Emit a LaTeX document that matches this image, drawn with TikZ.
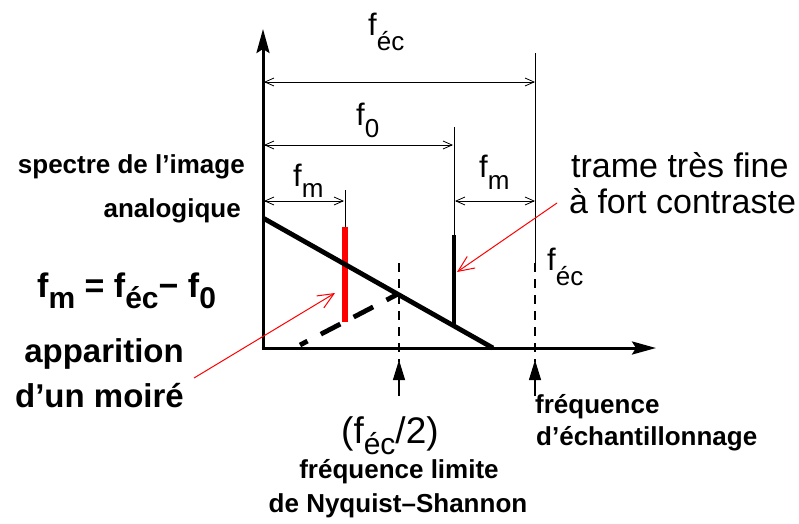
\documentclass[tikz,border=0pt]{standalone}
\usepackage{fontspec}
\setmainfont{Liberation Sans}
\usetikzlibrary{arrows.meta}
\newcommand{\lbl}[3][26]{f\raisebox{-#2}{\fontsize{#1}{28}\selectfont #3}}
\begin{document}
\begin{tikzpicture}[x=1pt,y=-1pt,
  axis/.style={line width=3pt,-{Stealth[length=24pt,width=13pt,inset=4pt]}},
  dim/.style={line width=0.8pt,{Straight Barb[length=9pt,width=8pt]}-{Straight Barb[length=9pt,width=8pt]}},
  ext/.style={line width=0.8pt},
  thick line/.style={line width=4.8pt},
  dashv/.style={line width=2.6pt,dash pattern=on 9pt off 7pt},
  upar/.style={line width=1.2pt,-{Triangle[length=20pt,width=12pt]}},
  redar/.style={red,line width=1pt,-{Straight Barb[length=16pt,width=14pt]}},
  reg/.style={inner sep=0pt,font=\fontsize{31}{34}\selectfont},
  big/.style={inner sep=0pt,font=\fontsize{34}{36}\selectfont},
  bold26/.style={inner sep=0pt,font=\fontsize{26}{30}\selectfont\bfseries},
  bold33/.style={inner sep=0pt,font=\fontsize{33}{38}\selectfont\bfseries}]
\useasboundingbox (0,0) rectangle (799,523);
% axes
\coordinate (O) at (263,348);
\coordinate (Ytop) at (263,29);
\coordinate (Xend) at (656,348);
\draw[axis] ([yshift=1.5pt]O) -- (Ytop);
\draw[axis] ([xshift=-1.5pt]O) -- (Xend);
% extension lines
\coordinate (E1) at (535,53); \coordinate (E2) at (535,263); \coordinate (E3) at (535,362);
\coordinate (F1) at (454,127); \coordinate (F2) at (454,235); \coordinate (F3) at (454,324);
\coordinate (M1) at (345,190); \coordinate (M2) at (345,227); \coordinate (M3) at (345,322);
\coordinate (N1) at (399,263); \coordinate (N2) at (399,362);
\draw[ext] (E1) -- (E2);
\draw[dashv] (E2) -- (E3);
\draw[ext] (F1) -- (F2);
\draw[thick line] (F2) -- (F3);
\draw[ext] (M1) -- (M2);
\draw[red,line width=5.5pt] (M2) -- (M3);
\draw[dashv] (N1) -- (N2);
% dimension arrows
\coordinate (Dec0) at (264,82); \coordinate (Dec1) at (535,82);
\coordinate (Df0) at (264,145); \coordinate (Df1) at (453,145);
\coordinate (Dm0) at (264,201); \coordinate (Dm1) at (344,201);
\coordinate (Dn0) at (455,201); \coordinate (Dn1) at (535,201);
\draw[dim] (Dec0) -- (Dec1);
\draw[dim] (Df0) -- (Df1);
\draw[dim] (Dm0) -- (Dm1);
\draw[dim] (Dn0) -- (Dn1);
% spectrum
\coordinate (S0) at (263,218); \coordinate (S1) at (493,348);
\draw[thick line] (S0) -- (S1);
\coordinate (A0) at (398,294); \coordinate (A1) at (300,345);
\draw[thick line,dash pattern=on 22pt off 15pt,dash phase=9pt] (A0) -- (A1);
% labels
\node[reg,anchor=base west] (lfec) at (368,35) {\lbl{15pt}{éc}};
\node[reg,anchor=base west] (lf0) at (356,125) {\lbl{12pt}{0}};
\node[reg,anchor=base west] (lfm1) at (293,186) {\lbl{11pt}{m}};
\node[reg,anchor=base west] (lfm2) at (479,177) {\lbl{12pt}{m}};
\node[reg,anchor=base west] (lfec2) at (547,270) {\lbl{15pt}{éc}};
\node[bold26,anchor=base east] (spec) at (245,173) {spectre de l’image};
\node[bold26,anchor=base east] (ana) at (241,217) {analogique};
\node[inner sep=0pt,anchor=base west,font=\fontsize{34}{38}\selectfont\bfseries] (form) at (37,297)
  {f\raisebox{-11pt}{\fontsize{30}{32}\selectfont m} = f\raisebox{-11pt}{\fontsize{30}{32}\selectfont éc}− f\raisebox{-11pt}{\fontsize{30}{32}\selectfont 0}};
\node[bold33,anchor=base east] (app) at (184,362) {apparition};
\node[bold33,anchor=base east] (moi) at (184,407) {d’un moiré};
\node[big,anchor=base west] (tr1) at (571,177) {trame très fine};
\node[big,anchor=base west] (tr2) at (569,213) {à fort contraste};
\node[inner sep=0pt,anchor=base west,font=\fontsize{37}{40}\selectfont] (half) at (341,443) {(\lbl[30]{11pt}{éc}/2)};
\node[bold26,anchor=base] (lim1) at (399,478) {fréquence limite};
\node[bold26,anchor=base] (lim2) at (398,512) {de Nyquist–Shannon};
\node[bold26,anchor=base west] (ech1) at (535,413) {fréquence};
\node[bold26,anchor=base west] (ech2) at (536,445) {d’échantillonnage};
% up arrows
\coordinate (U1a) at (399,396); \coordinate (U1b) at (399,360);
\coordinate (U2a) at (535,396); \coordinate (U2b) at (535,360);
\draw[upar] (U1a) -- (U1b);
\draw[upar] (U2a) -- (U2b);
% red arrows
\coordinate (R1a) at (557,203); \coordinate (R1b) at (457,272);
\coordinate (R2a) at (194,378); \coordinate (R2b) at (335,293);
\draw[redar] (R1a) -- (R1b);
\draw[redar] (R2a) -- (R2b);
\end{tikzpicture}
\end{document}
